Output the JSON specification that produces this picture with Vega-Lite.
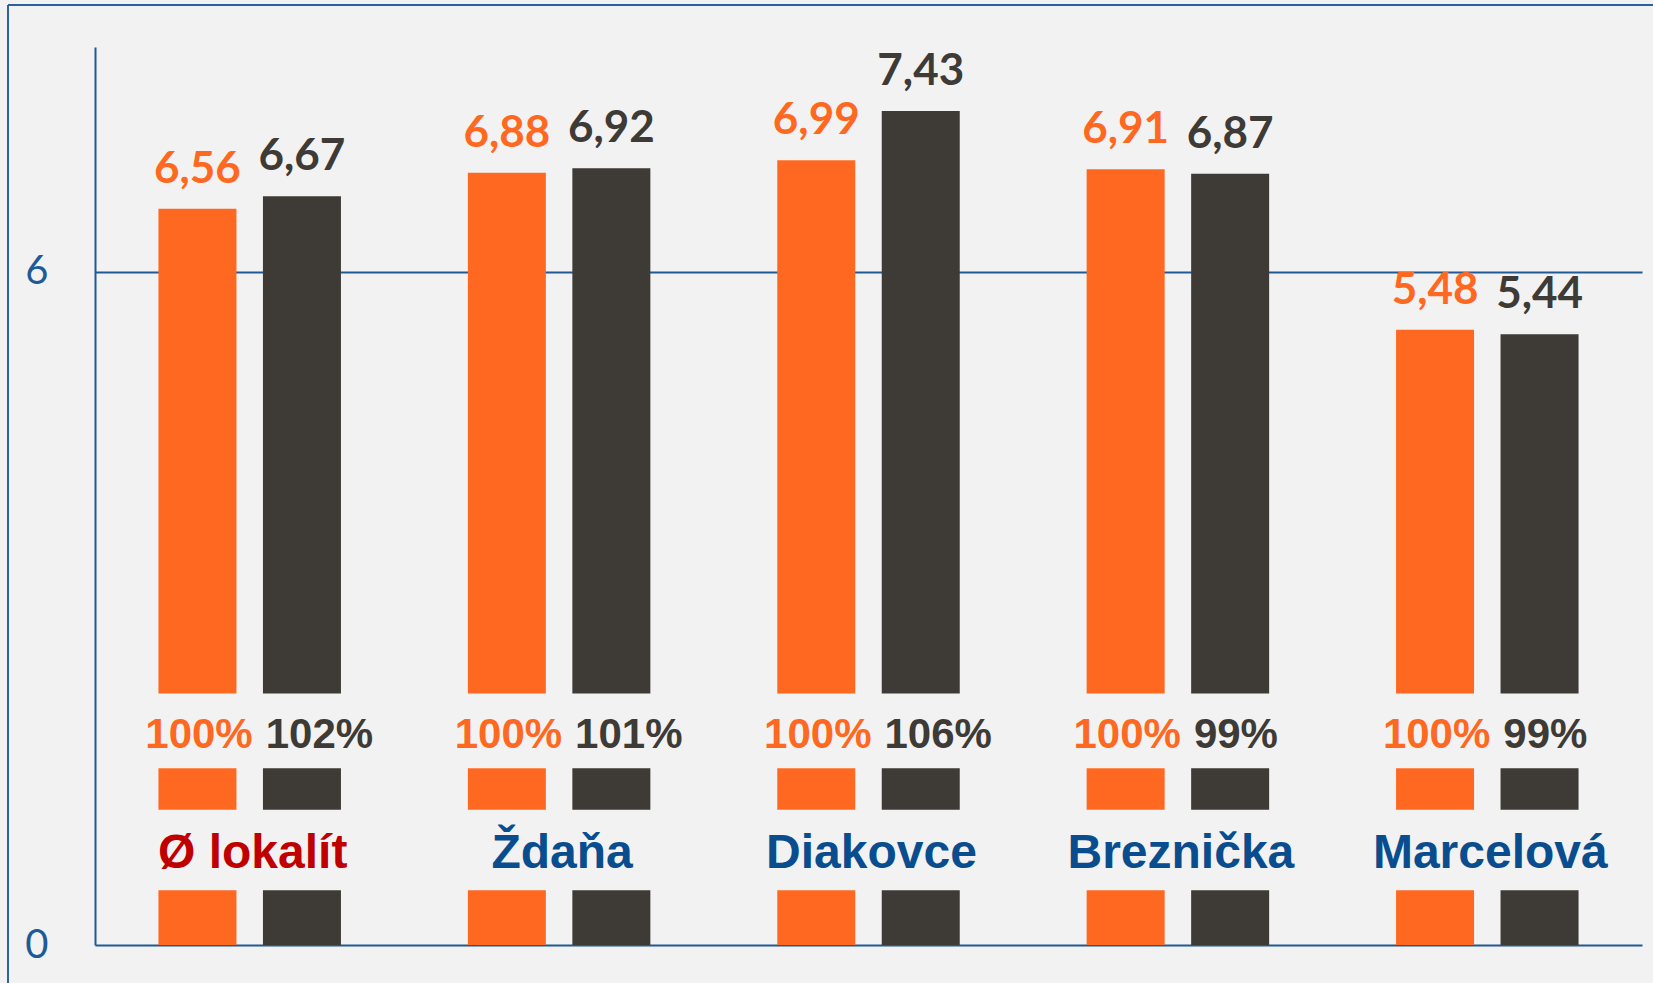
{
  "$schema": "https://vega.github.io/schema/vega-lite/v6.json",
  "width": 1645,
  "height": 978,
  "autosize": {"type": "none"},
  "padding": {"left": 8, "top": 5, "right": 0, "bottom": 0},
  "background": "#F2F2F2",
  "config": {
    "view": {"fill": "#F2F2F2", "stroke": "#2A62A0", "strokeWidth": 2, "strokeDash": [1645, 2623, 978, 0]},
    "locale": {"number": {"decimal": ",", "thousands": " ", "grouping": [3], "currency": ["", " €"]}}
  },
  "data": {
    "values": [
      {"lokalita": "Ø lokalít", "seria": "A", "hodnota": 6.56, "pct": 1.00},
      {"lokalita": "Ø lokalít", "seria": "B", "hodnota": 6.67, "pct": 1.02},
      {"lokalita": "Ždaňa", "seria": "A", "hodnota": 6.88, "pct": 1.00},
      {"lokalita": "Ždaňa", "seria": "B", "hodnota": 6.92, "pct": 1.01},
      {"lokalita": "Diakovce", "seria": "A", "hodnota": 6.99, "pct": 1.00},
      {"lokalita": "Diakovce", "seria": "B", "hodnota": 7.43, "pct": 1.06},
      {"lokalita": "Breznička", "seria": "A", "hodnota": 6.91, "pct": 1.00},
      {"lokalita": "Breznička", "seria": "B", "hodnota": 6.87, "pct": 0.99},
      {"lokalita": "Marcelová", "seria": "A", "hodnota": 5.48, "pct": 1.00},
      {"lokalita": "Marcelová", "seria": "B", "hodnota": 5.44, "pct": 0.99}
    ]
  },
  "encoding": {
    "x": {
      "field": "lokalita",
      "type": "nominal",
      "sort": null,
      "scale": {"range": [87, 1634], "paddingInner": 0, "paddingOuter": 0},
      "axis": null
    }
  },
  "layer": [
    {
      "mark": {"type": "bar"},
      "encoding": {
        "xOffset": {"field": "seria", "type": "nominal", "scale": {"domain": ["A", "B"], "paddingInner": 0.2536, "paddingOuter": 0.6072}},
        "y": {
          "field": "hodnota",
          "type": "quantitative",
          "scale": {"domain": [0, 8], "range": [940, 42], "nice": false, "zero": true},
          "axis": {
            "values": [0, 6],
            "format": "d",
            "offset": -87,
            "grid": true,
            "gridColor": "#1F5A96",
            "gridWidth": 2,
            "domainColor": "#1F5A96",
            "domainWidth": 2,
            "ticks": false,
            "tickSize": 0,
            "labelPadding": 47,
            "labelFont": "Lato",
            "labelFontSize": 40,
            "labelColor": "#1F5A96",
            "title": null
          }
        },
        "color": {"field": "seria", "type": "nominal", "scale": {"domain": ["A", "B"], "range": ["#FF6821", "#3E3A35"]}, "legend": null}
      }
    },
    {
      "mark": {"type": "bar", "fill": "#F2F2F2", "stroke": "#F2F2F2", "strokeWidth": 2},
      "encoding": {
        "xOffset": {"field": "seria", "type": "nominal", "scale": {"domain": ["A", "B"], "paddingInner": 0.2536, "paddingOuter": 0.6072}},
        "y": {"datum": 2.231, "type": "quantitative"},
        "y2": {"datum": 1.584}
      }
    },
    {
      "mark": {"type": "bar", "fill": "#F2F2F2", "stroke": "#F2F2F2", "strokeWidth": 2},
      "encoding": {
        "xOffset": {"field": "seria", "type": "nominal", "scale": {"domain": ["A", "B"], "paddingInner": 0.2536, "paddingOuter": 0.6072}},
        "y": {"datum": 1.197, "type": "quantitative"},
        "y2": {"datum": 0.497}
      }
    },
    {
      "mark": {"type": "text", "font": "Lato", "fontWeight": "bold", "fontSize": 44, "baseline": "alphabetic", "dy": -26},
      "encoding": {
        "xOffset": {"field": "seria", "type": "nominal", "scale": {"domain": ["A", "B"], "paddingInner": 0.2536, "paddingOuter": 0.6072}},
        "y": {"field": "hodnota", "type": "quantitative"},
        "text": {"field": "hodnota", "type": "quantitative", "format": ".2f"},
        "color": {"field": "seria", "type": "nominal", "legend": null}
      }
    },
    {
      "transform": [{"filter": "datum.seria === 'A'"}],
      "mark": {"type": "text", "font": "Liberation Sans", "fontWeight": "bold", "fontSize": 42, "baseline": "alphabetic", "align": "right", "dx": 3, "color": "#FF6821"},
      "encoding": {
        "y": {"datum": 1.754, "type": "quantitative"},
        "text": {"field": "pct", "type": "quantitative", "format": ".0%"}
      }
    },
    {
      "transform": [{"filter": "datum.seria === 'B'"}],
      "mark": {"type": "text", "font": "Liberation Sans", "fontWeight": "bold", "fontSize": 42, "baseline": "alphabetic", "align": "left", "dx": 16, "color": "#3E3A35"},
      "encoding": {
        "y": {"datum": 1.754, "type": "quantitative"},
        "text": {"field": "pct", "type": "quantitative", "format": ".0%"}
      }
    },
    {
      "transform": [{"filter": "datum.seria === 'A'"}],
      "mark": {"type": "text", "font": "Liberation Sans", "fontWeight": "bold", "fontSize": 48, "baseline": "alphabetic", "align": "center", "dx": 3},
      "encoding": {
        "y": {"datum": 0.684, "type": "quantitative"},
        "text": {"field": "lokalita", "type": "nominal"},
        "color": {"condition": {"test": "datum.lokalita === 'Ø lokalít'", "value": "#C00000"}, "value": "#0A4D8F"}
      }
    }
  ]
}
